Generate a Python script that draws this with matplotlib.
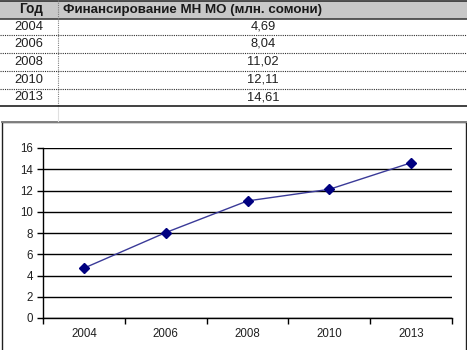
import matplotlib.pyplot as plt
from matplotlib.lines import Line2D
from matplotlib.patches import Rectangle

plt.rcParams['font.family'] = ['Liberation Sans', 'DejaVu Sans']

years = ["2004", "2006", "2008", "2010", "2013"]
funding = [4.69, 8.04, 11.02, 12.11, 14.61]
col_year = "Год"
col_value = "Финансирование МН МО (млн. сомони)"

W, H = 467, 350
fig = plt.figure(figsize=(W / 100, H / 100), dpi=100)


def fx(x):
    return x / W


def fy(y):
    return 1 - y / H


def hline(y, x0, x1, **kw):
    fig.add_artist(Line2D([fx(x0), fx(x1)], [fy(y), fy(y)], transform=fig.transFigure, **kw))


def vline(x, y0, y1, **kw):
    fig.add_artist(Line2D([fx(x), fx(x)], [fy(y0), fy(y1)], transform=fig.transFigure, **kw))


# --- table (spreadsheet cells above the chart) ---
fig.add_artist(Rectangle((0, fy(18.5)), 1, fy(0.5) - fy(18.5), transform=fig.transFigure,
                         facecolor="#c8c8c8", edgecolor="none", zorder=-2))
hline(0.8, 0, W, color="#303030", lw=1.2)
hline(18.5, 0, W, color="#404040", lw=1.2)
vline(58, 0, 106, color="#808080", lw=0.8, ls=(0, (1, 1)))
vline(58, 106, 121, color="#e0e0e0", lw=0.8)

fig.text(fx(43), fy(9.5), col_year, ha="right", va="center", fontsize=9.8, weight="bold", color="#1a1a1a")
fig.text(fx(63), fy(9.5), col_value, ha="left", va="center", fontsize=9.6, weight="bold", color="#1a1a1a")

row_tops = [18.5, 35, 53, 71, 89, 106]
for i, (yr, v) in enumerate(zip(years, funding)):
    yc = (row_tops[i] + row_tops[i + 1]) / 2
    fig.text(fx(43), fy(yc), yr, ha="right", va="center", fontsize=9.3, color="#202020")
    fig.text(fx(263), fy(yc), f"{v:.2f}".replace(".", ","), ha="center", va="center",
             fontsize=9.3, color="#202020")
for y in row_tops[1:-1]:
    hline(y, 0, W, color="#303030", lw=0.8, ls=(0, (1, 1)))
hline(106, 0, W, color="#202020", lw=1.2)

# --- chart frame ---
fig.add_artist(Rectangle((fx(2), -0.05), fx(466) - fx(2), fy(121.5) + 0.05,
                         transform=fig.transFigure, facecolor="white", edgecolor="#202020",
                         lw=1.0, zorder=-1))
hline(121.5, 2, 466, color="#808080", lw=1.4, zorder=-0.5)

ax = fig.add_axes([fx(43), fy(318), fx(452) - fx(43), fy(148) - fy(318)])
ax.set_zorder(2)
ax.set_facecolor("none")
x = list(range(len(years)))
ax.plot(x, funding, color="#3a3a98", lw=1.0, marker="D", markersize=5,
        markerfacecolor="#000080", markeredgecolor="#000080", clip_on=False)

ax.set_xlim(-0.5, len(years) - 0.5)
ax.set_ylim(0, 16)
ax.set_yticks(range(0, 17, 2))
ax.set_yticklabels([str(t) for t in range(0, 17, 2)], fontsize=8.3, color="#202020")
ax.set_xticks(x)
ax.set_xticklabels(years, fontsize=8.3, color="#202020")
ax.set_xticks([i - 0.5 for i in range(len(years) + 1)], minor=True)
ax.tick_params(axis="x", which="major", length=0, pad=7)
ax.tick_params(axis="x", which="minor", length=4, width=1, color="#000000", direction="out")
ax.tick_params(axis="y", length=4, width=1, color="#000000", direction="out", pad=3)
ax.yaxis.grid(True, color="#000000", lw=1.0)
ax.set_axisbelow(True)
for s in ["top", "right"]:
    ax.spines[s].set_visible(False)
for s in ["left", "bottom"]:
    ax.spines[s].set_color("#000000")
    ax.spines[s].set_linewidth(1.0)

fig.savefig("out.png", dpi=100)
